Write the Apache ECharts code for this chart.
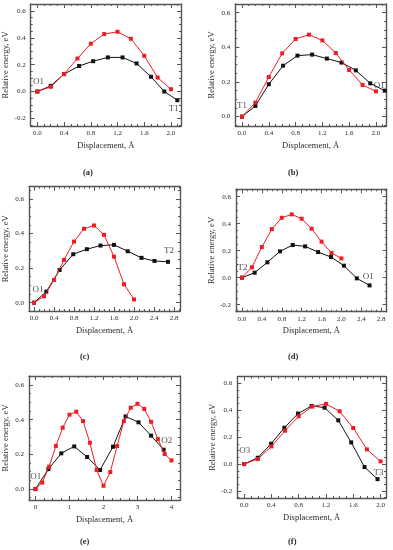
<!DOCTYPE html>
<html><head><meta charset="utf-8">
<script src="https://cdn.jsdelivr.net/npm/echarts@6/dist/echarts.min.js"></script>
<style>html,body{margin:0;padding:0;background:#fff}#c{width:393px;height:550px}</style>
</head><body><div id="c"></div>
<script>
// ---------- DATA ----------
const redX11 = [0, 0.2, 0.4, 0.6, 0.8, 1.0, 1.2, 1.4, 1.6, 1.8, 2.0];
const a_redY = [0, 0.035, 0.13, 0.246, 0.356, 0.428, 0.445, 0.393, 0.266, 0.104, 0.017];
const a_blkX = [0, 0.2, 0.4, 0.625, 0.835, 1.055, 1.275, 1.485, 1.70, 1.90, 2.095];
const a_blkY = [0, 0.042, 0.13, 0.19, 0.226, 0.254, 0.254, 0.209, 0.11, 0.0, -0.065];

const b_redY = [0, 0.081, 0.229, 0.365, 0.448, 0.473, 0.44, 0.367, 0.269, 0.183, 0.146];
const b_blkX = [0, 0.2, 0.4, 0.613, 0.828, 1.047, 1.267, 1.486, 1.70, 1.915, 2.13];
const b_blkY = [0, 0.062, 0.187, 0.294, 0.352, 0.358, 0.335, 0.312, 0.267, 0.192, 0.15];

const c_redY = [0, 0.037, 0.131, 0.247, 0.353, 0.427, 0.446, 0.392, 0.266, 0.106, 0.019];
const c_blkX = [0, 0.246, 0.512, 0.785, 1.057, 1.33, 1.60, 1.875, 2.15, 2.41, 2.68];
const c_blkY = [0, 0.064, 0.189, 0.28, 0.309, 0.33, 0.334, 0.297, 0.259, 0.241, 0.236];

const d_redY = [0, 0.077, 0.227, 0.36, 0.444, 0.469, 0.437, 0.363, 0.267, 0.183, 0.143];
const d_blkX = [0, 0.255, 0.51, 0.764, 1.02, 1.27, 1.53, 1.79, 2.05, 2.31, 2.565];
const d_blkY = [0, 0.037, 0.114, 0.195, 0.242, 0.232, 0.19, 0.153, 0.089, -0.005, -0.057];

const e_redX = [0, 0.2, 0.4, 0.6, 0.8, 1.0, 1.2, 1.4, 1.6, 1.8, 2.0, 2.2, 2.4, 2.6, 2.8, 3.0, 3.2, 3.4, 3.6, 3.8, 4.0];
const e_redY = [0, 0.038, 0.129, 0.248, 0.354, 0.429, 0.446, 0.392, 0.267, 0.11, 0.019, 0.098, 0.248, 0.392, 0.469, 0.492, 0.462, 0.388, 0.288, 0.202, 0.165];
const e_blkX = [0, 0.38, 0.76, 1.14, 1.52, 1.90, 2.28, 2.65, 3.03, 3.40, 3.77];
const e_blkY = [0, 0.115, 0.206, 0.246, 0.185, 0.11, 0.244, 0.419, 0.385, 0.308, 0.227];

const f_redY = [0, 0.037, 0.131, 0.248, 0.355, 0.427, 0.447, 0.392, 0.268, 0.109, 0.02];
const f_blkX = [0, 0.2, 0.396, 0.59, 0.79, 0.99, 1.18, 1.38, 1.57, 1.765, 1.956];
const f_blkY = [0, 0.047, 0.151, 0.27, 0.375, 0.432, 0.419, 0.325, 0.161, -0.022, -0.112];

// tick labels
const xTicks2 = [0, 0.4, 0.8, 1.2, 1.6, 2.0];
const xTicks28 = [0, 0.4, 0.8, 1.2, 1.6, 2.0, 2.4, 2.8];
const xTicks4 = [0, 1, 2, 3, 4];
const yTicksNeg = [-0.2, 0, 0.2, 0.4, 0.6];
const yTicksPos = [0, 0.2, 0.4, 0.6];

// point annotations
const a_notes = [['O1', 0.015, 0.07], ['T1', 2.04, -0.125]];
const b_notes = [['T1', 0.0, 0.062], ['O1', 2.05, 0.177]];
const c_notes = [['O1', 0.08, 0.073], ['T2', 2.7, 0.30]];
const d_notes = [['T2', 0.01, 0.074], ['O1', 2.54, 0.007]];
const e_notes = [['O1', 0.01, 0.071], ['O2', 3.86, 0.277]];
const f_notes = [['O3', 0.01, 0.099], ['T3', 1.97, -0.06]];

const panelLetters = ['(a)', '(b)', '(c)', '(d)', '(e)', '(f)'];

// ---------- LAYOUT / STYLE ----------
const FONT = '"Liberation Serif", "DejaVu Serif", serif';
const RED = '#ee1d23', BLK = '#111111', AX = '#555555', TXT = '#2a2a2a';

const panels = [
  {box: [30.7, 4, 150.3, 122], xr: [-0.1, 2.15], yr: [-0.257, 0.652], xt: xTicks2, xMinor: 4, xDec: 1, yt: yTicksNeg,
   red: [redX11, a_redY], blk: [a_blkX, a_blkY], notes: a_notes, letter: [91, 173]},
  {box: [235.3, 4, 150.7, 122], xr: [-0.1, 2.15], yr: [-0.054, 0.65], xt: xTicks2, xMinor: 4, xDec: 1, yt: yTicksPos,
   red: [redX11, b_redY], blk: [b_blkX, b_blkY], notes: b_notes, letter: [296, 173]},
  {box: [28.3, 186.7, 151.7, 124.3], xr: [-0.1, 2.92], yr: [-0.048, 0.67], xt: xTicks28, xMinor: 4, xDec: 1, yt: yTicksPos,
   red: [redX11, c_redY], blk: [c_blkX, c_blkY], notes: c_notes, letter: [88, 357]},
  {box: [236, 189.3, 150.7, 122.4], xr: [-0.12, 2.91], yr: [-0.252, 0.655], xt: xTicks28, xMinor: 4, xDec: 1, yt: yTicksNeg,
   red: [redX11, d_redY], blk: [d_blkX, d_blkY], notes: d_notes, letter: [296, 357]},
  {box: [28.3, 376, 151.7, 124], xr: [-0.19, 4.25], yr: [-0.063, 0.652], xt: xTicks4, xMinor: 4, xDec: 0, yt: yTicksPos,
   red: [e_redX, e_redY], blk: [e_blkX, e_blkY], notes: e_notes, letter: [88, 542]},
  {box: [237.3, 376.7, 148.7, 121.3], xr: [-0.1, 2.08], yr: [-0.252, 0.649], xt: xTicks2, xMinor: 4, xDec: 1, yt: yTicksNeg,
   red: [redX11, f_redY], blk: [f_blkX, f_blkY], notes: f_notes, letter: [296, 542]}
];

function minors(majors, n, lo, hi) {
  const step = (majors[1] - majors[0]) / n;
  const out = [];
  const start = majors[0] - step * Math.floor((majors[0] - lo) / step + 1e-9);
  for (let v = start; v <= hi + 1e-9; v += step) {
    const r = Math.round(v * 1e6) / 1e6;
    if (!majors.some(m => Math.abs(m - r) < 1e-6)) out.push(r);
  }
  return out;
}

const grids = [], xAxes = [], yAxes = [], series = [], graphics = [];
panels.forEach((p, i) => {
  grids.push({left: p.box[0], top: p.box[1], width: p.box[2], height: p.box[3], containLabel: false});
  const xMin = minors(p.xt, p.xMinor, p.xr[0], p.xr[1]);
  const yMin = minors(p.yt, 4, p.yr[0], p.yr[1]);
  const line = {show: true, onZero: false, lineStyle: {color: AX, width: 1.4}};
  const noLine = {show: false, onZero: false};
  const base = (pos) => ({gridIndex: i, type: 'value', position: pos, splitLine: {show: false}});
  const xIdx = xAxes.length, yIdx = yAxes.length;
  const tk = (vals, len) => ({show: true, inside: true, length: len, customValues: vals, lineStyle: {color: AX, width: 1}});
  xAxes.push(Object.assign(base('bottom'), {min: p.xr[0], max: p.xr[1], axisLine: line,
    axisTick: tk(p.xt, 4),
    axisLabel: {show: true, customValues: p.xt, margin: 4, fontFamily: FONT, fontSize: 7, color: TXT,
      formatter: v => Number(v).toFixed(p.xDec)},
    name: 'Displacement, Å', nameLocation: 'middle', nameGap: 15,
    nameTextStyle: {fontFamily: FONT, fontSize: 8.5, color: TXT}}));
  xAxes.push(Object.assign(base('bottom'), {min: p.xr[0], max: p.xr[1], axisLine: noLine,
    axisTick: tk(xMin, 2), axisLabel: {show: false}}));
  xAxes.push(Object.assign(base('top'), {min: p.xr[0], max: p.xr[1], axisLine: line,
    axisTick: tk(p.xt, 4), axisLabel: {show: false}}));
  xAxes.push(Object.assign(base('top'), {min: p.xr[0], max: p.xr[1], axisLine: noLine,
    axisTick: tk(xMin, 2), axisLabel: {show: false}}));
  yAxes.push(Object.assign(base('left'), {min: p.yr[0], max: p.yr[1], axisLine: line,
    axisTick: tk(p.yt, 4),
    axisLabel: {show: true, customValues: p.yt, margin: 5, fontFamily: FONT, fontSize: 7, color: TXT,
      formatter: v => Number(v).toFixed(1)},
    name: 'Relative energy, eV', nameLocation: 'middle', nameGap: 19, nameRotate: 90,
    nameTextStyle: {fontFamily: FONT, fontSize: 8.5, color: TXT}}));
  yAxes.push(Object.assign(base('left'), {min: p.yr[0], max: p.yr[1], axisLine: noLine,
    axisTick: tk(yMin, 2), axisLabel: {show: false}}));
  yAxes.push(Object.assign(base('right'), {min: p.yr[0], max: p.yr[1], axisLine: line,
    axisTick: tk(p.yt, 4), axisLabel: {show: false}}));
  yAxes.push(Object.assign(base('right'), {min: p.yr[0], max: p.yr[1], axisLine: noLine,
    axisTick: tk(yMin, 2), axisLabel: {show: false}}));

  const mk = (xs, ys) => xs.map((x, k) => [x, ys[k]]);
  series.push({type: 'line', xAxisIndex: xIdx, yAxisIndex: yIdx, data: mk(p.blk[0], p.blk[1]),
    symbol: 'rect', symbolSize: 4, lineStyle: {color: BLK, width: 1}, itemStyle: {color: BLK},
    silent: true, animation: false, z: 3});
  series.push({type: 'line', xAxisIndex: xIdx, yAxisIndex: yIdx, data: mk(p.red[0], p.red[1]),
    symbol: 'rect', symbolSize: 4, lineStyle: {color: RED, width: 1}, itemStyle: {color: RED},
    silent: true, animation: false, z: 4});
  series.push({type: 'scatter', xAxisIndex: xIdx, yAxisIndex: yIdx, symbolSize: 0, silent: true, animation: false,
    data: p.notes.map(n => ({value: [n[1], n[2]], name: n[0]})),
    label: {show: true, position: 'inside', formatter: q => q.name, fontFamily: FONT, fontSize: 9, color: '#222'}, z: 5});
  graphics.push({type: 'text', left: p.letter[0] - 8, top: p.letter[1] - 5,
    style: {text: panelLetters[i], font: 'bold 8.5px ' + FONT, fill: TXT}});
});

const chart = echarts.init(document.getElementById('c'), null, {renderer: 'canvas'});
chart.setOption({
  animation: false,
  backgroundColor: '#fff',
  grid: grids, xAxis: xAxes, yAxis: yAxes, series: series, graphic: graphics
});
</script></body></html>
